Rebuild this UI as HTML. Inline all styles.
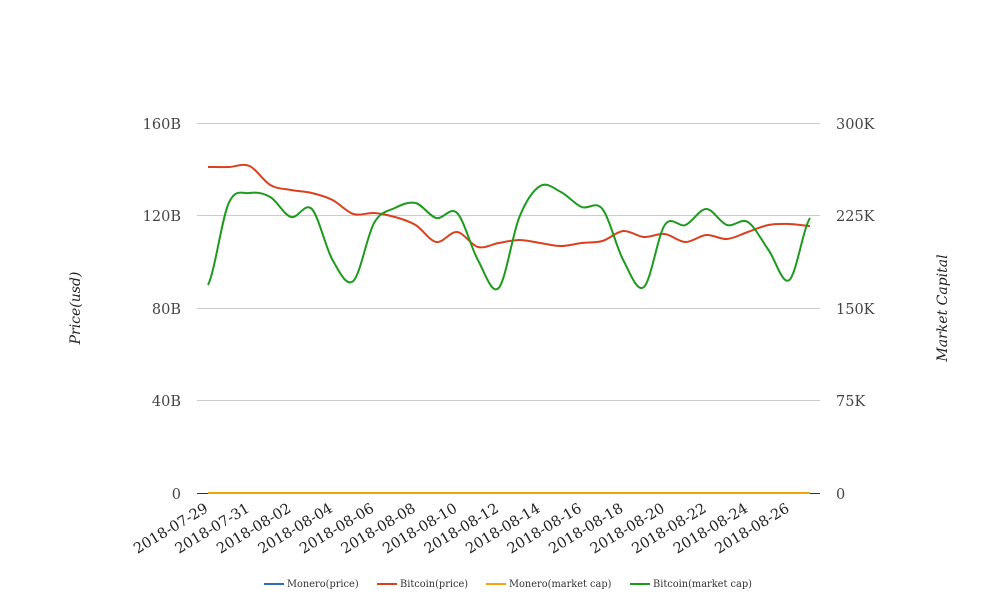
<!DOCTYPE html>
<html><head><meta charset="utf-8"><style>
html,body{margin:0;padding:0;background:#fff;}
svg{display:block;font-family:"DejaVu Serif","Liberation Serif",serif;}
</style></head><body>
<svg id="s" width="1008" height="616" viewBox="0 0 1008 616">
<g stroke="#cccccc" stroke-width="1">
<line x1="197" x2="820" y1="123.5" y2="123.5"/>
<line x1="197" x2="820" y1="215.5" y2="215.5"/>
<line x1="197" x2="820" y1="308.5" y2="308.5"/>
<line x1="197" x2="820" y1="400.5" y2="400.5"/>
</g>
<line x1="197" x2="820" y1="493.5" y2="493.5" stroke="#333" stroke-width="1"/>
<g font-size="14.5" fill="#444" text-anchor="end">
<text x="181" y="129">160B</text><text x="181" y="221">120B</text><text x="181" y="314">80B</text><text x="181" y="406">40B</text><text x="181" y="499">0</text>
</g>
<g font-size="14.5" fill="#444" text-anchor="start">
<text x="836" y="129">300K</text><text x="836" y="221">225K</text><text x="836" y="314">150K</text><text x="836" y="406">75K</text><text x="836" y="499">0</text>
</g>
<text transform="translate(80,308) rotate(-90)" text-anchor="middle" font-size="14" font-style="italic" fill="#222">Price(usd)</text>
<text transform="translate(947,308) rotate(-90)" text-anchor="middle" font-size="14" font-style="italic" fill="#222">Market Capital</text>
<g id="xl" font-size="14.5" fill="#222" text-anchor="end"></g>
<line x1="208" x2="810" y1="493" y2="493" stroke="#f0a30a" stroke-width="2"/>
<path id="red" fill="none" stroke="#d9411e" stroke-width="2"/>
<path id="green" fill="none" stroke="#1e9a1e" stroke-width="2"/>
<g font-size="9.8" fill="#333">
<line x1="264" x2="284" y1="584" y2="584" stroke="#2f6db3" stroke-width="2"/><text x="287" y="587">Monero(price)</text>
<line x1="377" x2="397" y1="584" y2="584" stroke="#d9411e" stroke-width="2"/><text x="400" y="587">Bitcoin(price)</text>
<line x1="486" x2="506" y1="584" y2="584" stroke="#f0a30a" stroke-width="2"/><text x="509" y="587">Monero(market cap)</text>
<line x1="630" x2="650" y1="584" y2="584" stroke="#1e9a1e" stroke-width="2"/><text x="653" y="587">Bitcoin(market cap)</text>
</g>
</svg>
<script>
var g=[285,203,193,197,217,209,260,281,223,208,203,218,213,260,288,217,186,192,207,209,260,287,225,225,209,225,222,250,280,218];
var r=[167,167,166,185,190,193,200,214,213,217,225,242,232,247,243,240,243,246,243,241,231,237,234,242,235,239,232,225,224,226];
function xs(i){return 208+i*20.76;}
function path(a){var d="M"+xs(0)+","+a[0];for(var i=0;i<a.length-1;i++){var p0=a[Math.max(i-1,0)],p1=a[i],p2=a[i+1],p3=a[Math.min(i+2,a.length-1)];var x1=xs(i),x2=xs(i+1),h=20.76/3;d+=" C"+(x1+h)+","+(p1+(p2-p0)/6)+" "+(x2-h)+","+(p2-(p3-p1)/6)+" "+x2+","+p2;}return d;}
document.getElementById("red").setAttribute("d",path(r));
document.getElementById("green").setAttribute("d",path(g));
var xl=document.getElementById("xl"),s="";
var dates=["2018-07-29","2018-07-31","2018-08-02","2018-08-04","2018-08-06","2018-08-08","2018-08-10","2018-08-12","2018-08-14","2018-08-16","2018-08-18","2018-08-20","2018-08-22","2018-08-24","2018-08-26"];
for(var k=0;k<dates.length;k++){var x=xs(2*k)+1;s+='<text transform="translate('+x+',511) rotate(-31)">'+dates[k]+'</text>';}
xl.innerHTML=s;
</script>
</body></html>
